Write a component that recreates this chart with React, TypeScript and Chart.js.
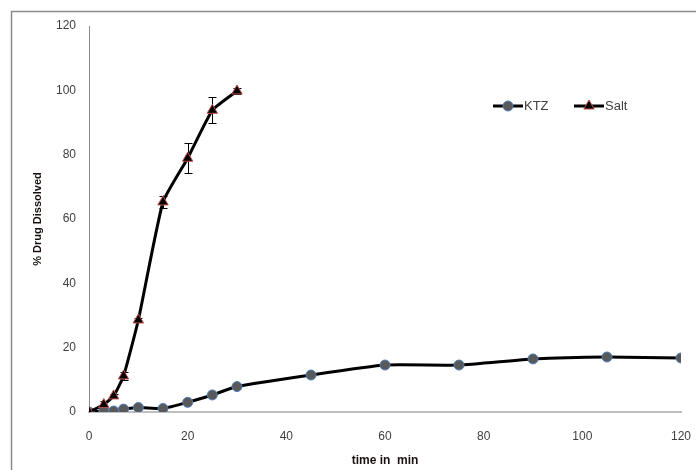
import React, { useEffect, useRef } from "react";
import { Chart, registerables } from "chart.js";

Chart.register(...registerables);

const timeKTZ = [0, 3, 5, 7, 10, 15, 20, 25, 30, 45, 60, 75, 90, 105, 120];
const ktzValues = [0, 0.3, 0.3, 0.9, 1.4, 1.1, 3.0, 5.3, 7.9, 11.5, 14.6, 14.6, 16.5, 17.1, 16.8];
const timeSalt = [0, 3, 5, 7, 10, 15, 20, 25, 30];
const saltValues = [0, 2.3, 5.0, 11.2, 28.6, 65.3, 78.9, 93.8, 99.8];
const saltErrors = [0, 1, 0.6, 1.3, 0.6, 2, 4.7, 4, 0.8];
const seriesNames = ["KTZ", "Salt"];
const xTitle = "time in  min";
const yTitle = "% Drug Dissolved";

const FONT = "'Liberation Sans', Arial, sans-serif";

const framePlugin = {
  id: "frame",
  beforeDraw(chart: any) {
    const ctx = chart.ctx;
    ctx.save();
    ctx.fillStyle = "#ffffff";
    ctx.fillRect(0, 0, chart.width, chart.height);
    ctx.strokeStyle = "#8c8c8c";
    ctx.lineWidth = 1.5;
    ctx.beginPath();
    ctx.moveTo(11.5, chart.height);
    ctx.lineTo(11.5, 11.5);
    ctx.lineTo(chart.width, 11.5);
    ctx.stroke();
    ctx.restore();
  },
};

const errorBarPlugin = {
  id: "errorBars",
  beforeDatasetsDraw(chart: any) {
    const ctx = chart.ctx;
    const xs = chart.scales.x;
    const ys = chart.scales.y;
    ctx.save();
    ctx.strokeStyle = "#000000";
    ctx.lineWidth = 1;
    timeSalt.forEach((t, i) => {
      const e = saltErrors[i];
      if (!e) return;
      const px = Math.round(xs.getPixelForValue(t)) + 0.5;
      const top = ys.getPixelForValue(saltValues[i] + e);
      const bot = ys.getPixelForValue(saltValues[i] - e);
      ctx.beginPath();
      ctx.moveTo(px, top);
      ctx.lineTo(px, bot);
      ctx.moveTo(px - 4, Math.round(top) + 0.5);
      ctx.lineTo(px + 4, Math.round(top) + 0.5);
      ctx.moveTo(px - 4, Math.round(bot) + 0.5);
      ctx.lineTo(px + 4, Math.round(bot) + 0.5);
      ctx.stroke();
    });
    ctx.restore();
  },
};

const legendPlugin = {
  id: "customLegend",
  afterDraw(chart: any) {
    const ctx = chart.ctx;
    const items = [
      { label: seriesNames[0], x: 493, style: "circle", fill: "#595959", stroke: "#4f81bd", r: 5 },
      { label: seriesNames[1], x: 574, style: "triangle", fill: "#000000", stroke: "#c0504d", r: 6 },
    ];
    const y = 106;
    ctx.save();
    items.forEach((it) => {
      ctx.strokeStyle = "#000000";
      ctx.lineWidth = 3;
      ctx.beginPath();
      ctx.moveTo(it.x, y);
      ctx.lineTo(it.x + 30, y);
      ctx.stroke();
      ctx.fillStyle = it.fill;
      ctx.strokeStyle = it.stroke;
      ctx.lineWidth = 1;
      const cx = it.x + 15;
      if (it.style === "circle") {
        ctx.beginPath();
        ctx.arc(cx, y, it.r, 0, Math.PI * 2);
        ctx.fill();
        ctx.stroke();
      } else {
        const r = it.r;
        ctx.beginPath();
        ctx.moveTo(cx, y - r);
        ctx.lineTo(cx + r * 0.866, y + r * 0.5);
        ctx.lineTo(cx - r * 0.866, y + r * 0.5);
        ctx.closePath();
        ctx.fill();
        ctx.stroke();
      }
      ctx.fillStyle = "#404040";
      ctx.font = "13px " + FONT;
      ctx.textBaseline = "middle";
      ctx.textAlign = "left";
      ctx.fillText(it.label, it.x + 31, y + 0.5);
    });
    ctx.restore();
  },
};

export default function App() {
  const ref = useRef<HTMLCanvasElement>(null);
  useEffect(() => {
    if (!ref.current) return;
    const chart = new Chart(ref.current, {
      type: "line",
      data: {
        datasets: [
          {
            label: seriesNames[0],
            data: timeKTZ.map((t, i) => ({ x: t, y: ktzValues[i] })),
            borderColor: "#000000",
            borderWidth: 3,
            pointStyle: "circle",
            pointRadius: 5,
            pointBackgroundColor: "#595959",
            pointBorderColor: "#4f81bd",
            pointBorderWidth: 1,
            tension: 0.15,
            order: 2,
          },
          {
            label: seriesNames[1],
            data: timeSalt.map((t, i) => ({ x: t, y: saltValues[i] })),
            borderColor: "#000000",
            borderWidth: 3,
            pointStyle: "triangle",
            pointRadius: 6,
            pointBackgroundColor: "#000000",
            pointBorderColor: "#c0504d",
            pointBorderWidth: 1,
            tension: 0.15,
            order: 1,
          },
        ],
      },
      options: {
        responsive: false,
        animation: false,
        events: [],
        layout: { padding: { left: 0, right: 15, top: 26, bottom: 0 } },
        plugins: {
          legend: { display: false },
          tooltip: { enabled: false },
        },
        scales: {
          x: {
            type: "linear",
            min: 0,
            max: 120,
            afterFit: (s: any) => {
              s.height = 58;
              s.paddingLeft = 0;
              s.paddingRight = 0;
            },
            ticks: {
              stepSize: 20,
              padding: 17,
              color: "#404040",
              font: { family: FONT, size: 12 },
              maxRotation: 0,
            },
            grid: { drawOnChartArea: false, drawTicks: false },
            border: { display: true, color: "#bfbfbf", width: 2 },
            title: {
              display: true,
              text: xTitle,
              color: "#1a1010",
              font: { family: FONT, size: 12, weight: "bold" },
              padding: { top: 0, bottom: 2 },
            },
          },
          y: {
            type: "linear",
            min: 0,
            max: 120,
            afterFit: (s: any) => {
              s.width = 89;
              s.paddingTop = 0;
              s.paddingBottom = 0;
            },
            ticks: {
              stepSize: 20,
              padding: 13,
              color: "#404040",
              font: { family: FONT, size: 12 },
            },
            grid: { drawOnChartArea: false, drawTicks: false },
            border: { display: true, color: "#8c8c8c", width: 1 },
            title: {
              display: true,
              text: yTitle,
              color: "#1a1010",
              font: { family: FONT, size: 11, weight: "bold" },
              padding: { top: 31, bottom: 0 },
            },
          },
        },
      },
      plugins: [framePlugin, errorBarPlugin, legendPlugin],
    });
    return () => chart.destroy();
  }, []);
  return (
    <div style={{ position: "absolute", left: 0, top: 0, width: 696, height: 470 }}>
      <canvas ref={ref} width={696} height={470} style={{ width: 696, height: 470, display: "block" }} />
    </div>
  );
}
